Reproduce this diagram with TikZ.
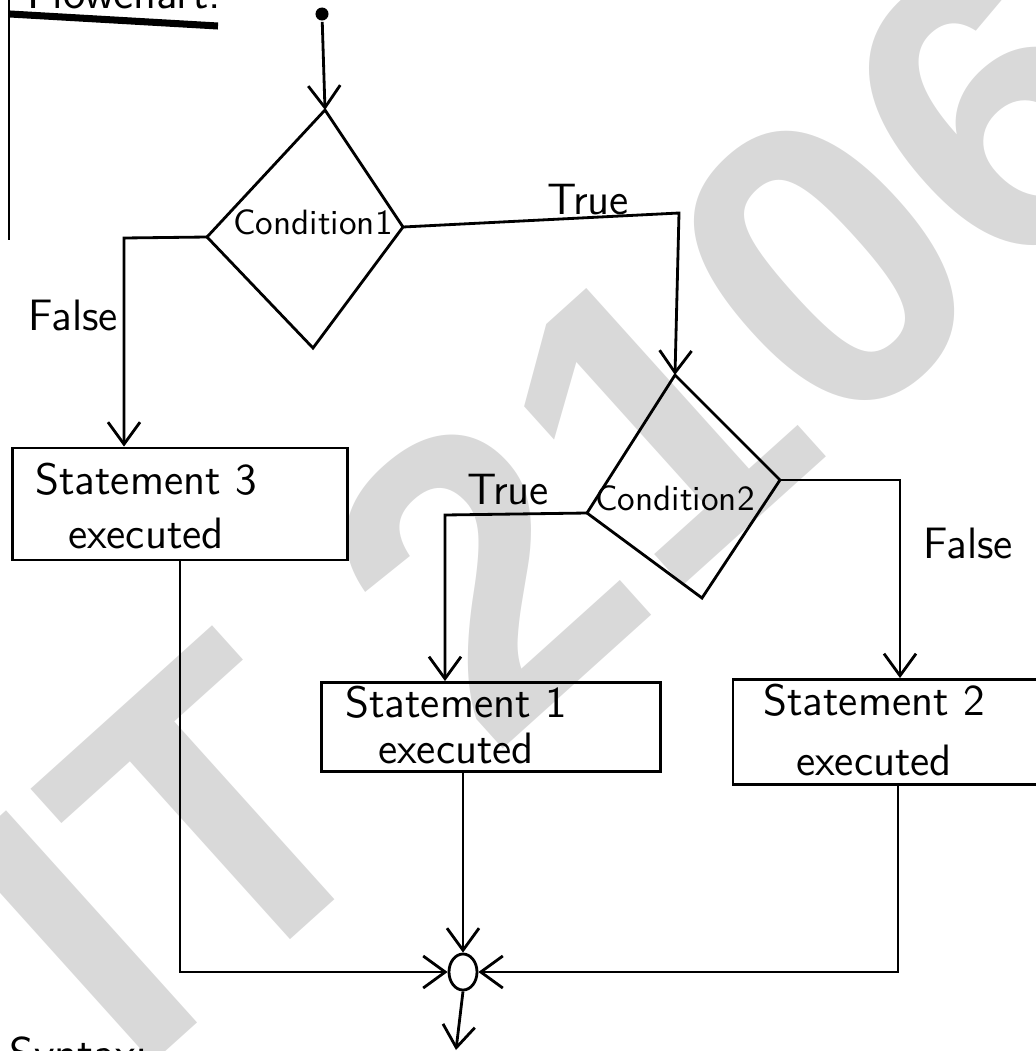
\documentclass[tikz,border=0pt]{standalone}
\usepackage{fontspec}
\usepackage{tikz}
\usetikzlibrary{arrows.meta,shapes.geometric}
\newfontfamily\markfont{Liberation Sans}

\begin{document}
\begin{tikzpicture}[x=0.01cm, y=-0.01cm, line width=0.8pt,
    arr/.style={-{Straight Barb[length=2.2mm,width=3.2mm]}},
    box/.style={draw, rectangle, inner sep=0pt},
    txt/.style={font=\sffamily\fontsize{12.5}{#1}\selectfont, align=center},
    cond/.style={font=\sffamily\fontsize{10}{12}\selectfont},
    lbl/.style={font=\sffamily\fontsize{12.5}{14}\selectfont}]
    \useasboundingbox (0,0) rectangle (1036,1051);

    % watermark
    \node[rotate=42, text=black!15, font=\markfont\bfseries\fontsize{118}{118}\selectfont] (mark) at (560,505) {IT 2106};

    % heading and margin
    \node[anchor=base west, inner sep=0, font=\sffamily\fontsize{13}{15}\selectfont] (title) at (26,8) {Flowchart:};
    \draw[line width=2pt] (10,14) -- (218,26);
    \draw (9,0) -- (9,240);
    \node[anchor=north west, inner sep=0, font=\sffamily\fontsize{13}{15}\selectfont] (syntax) at (8,1035) {Syntax:};

    % start
    \node[circle, fill, inner sep=0pt, minimum size=0.13cm] (start) at (322,14) {};

    % condition 1
    \coordinate (c1t) at (325,110);
    \coordinate (c1r) at (403,227);
    \coordinate (c1b) at (313,348);
    \coordinate (c1l) at (207,237);
    \draw (c1t) -- (c1r) -- (c1b) -- (c1l) -- cycle;
    \node[cond] (cond1) at (313,222) {Condition1};

    % condition 2
    \coordinate (c2t) at (675,375);
    \coordinate (c2r) at (780,480);
    \coordinate (c2b) at (702,598);
    \coordinate (c2l) at (587,513);
    \draw (c2t) -- (c2r) -- (c2b) -- (c2l) -- cycle;
    \node[cond] (cond2) at (675,498) {Condition2};

    % statements
    \node[box, minimum width=3.35cm, minimum height=1.12cm] (s3) at (180,504) {};
    \node[txt=15.6] (s3t) at (146,506) {Statement 3\\executed};
    \node[box, minimum width=3.38cm, minimum height=0.89cm] (s1) at (491,727) {};
    \node[txt=12.8] (s1t) at (456,725) {Statement 1\\executed};
    \node[box, minimum width=3.3cm, minimum height=1.05cm] (s2) at (898,732) {};
    \node[txt=16.8] (s2t) at (874,730) {Statement 2\\executed};

    % junction
    \node[draw, ellipse, inner sep=0pt, minimum width=0.28cm, minimum height=0.36cm] (join) at (463,972) {};
    \coordinate (out) at (456,1050);

    % bends
    \coordinate (t1) at (679,213);
    \coordinate (f1) at (124,238);
    \coordinate (t2) at (445,515);
    \coordinate (f2) at (900,480);

    % labels
    \node[lbl] (true1) at (588,200) {True};
    \node[lbl] (false1) at (73,315) {False};
    \node[lbl] (true2) at (508,490) {True};
    \node[lbl] (false2) at (968,543) {False};

    % connections
    \draw[arr] (start) -- (c1t);
    \draw[arr] (c1r) -- (t1) -- (c2t);
    \draw[arr] (c1l) -- (f1) -- (f1 |- s3.north);
    \draw[arr] (c2l) -- (t2) -- (t2 |- s1.north);
    \draw[arr] (c2r) -- (f2) -- (f2 |- s2.north);
    \draw[arr] (s3.south) |- (join.west);
    \draw[arr] (s2.south) |- (join.east);
    \draw[arr] (s1.south -| join.north) -- (join.north);
    \draw[arr] (join.south) -- (out);
\end{tikzpicture}
\end{document}
